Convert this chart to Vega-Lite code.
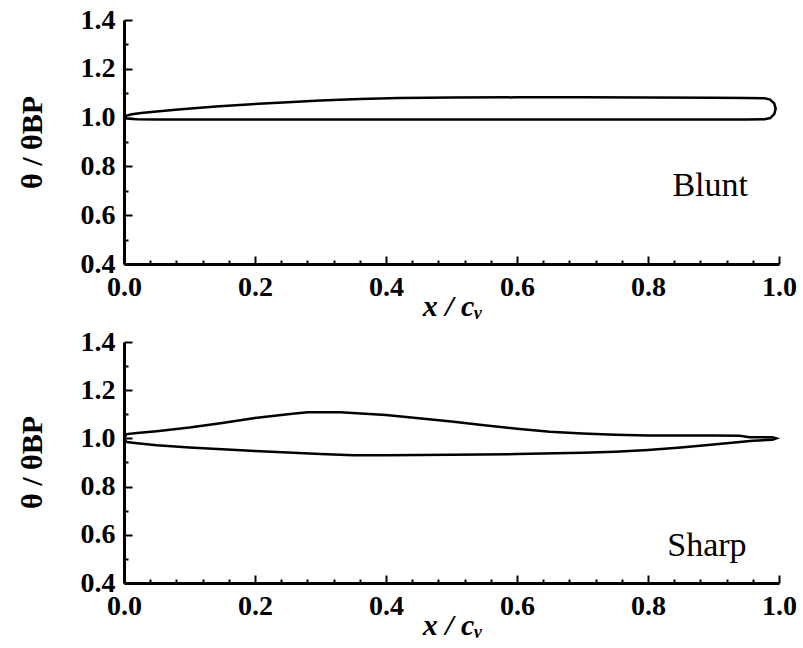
{
  "$schema": "https://vega.github.io/schema/vega-lite/v6.json",
  "background": "white",
  "padding": {"left": 17, "top": 6, "right": 10, "bottom": 0},
  "spacing": 7,
  "config": {
    "view": {"stroke": null},
    "axis": {
      "grid": false,
      "domainColor": "black",
      "domainWidth": 3,
      "tickColor": "black",
      "tickWidth": 2,
      "labelFont": "Liberation Serif",
      "labelFontWeight": "bold",
      "labelFontSize": 28,
      "labelColor": "black",
      "labelOverlap": false,
      "labelFlush": false,
      "titleFont": "Liberation Serif",
      "titleFontWeight": "bold",
      "titleFontSize": 30,
      "titleColor": "black"
    }
  },
  "datasets": {
    "blunt": [
      {"i": 0, "x": 0.0, "y": 1.0},
      {"i": 1, "x": 0.004, "y": 1.008},
      {"i": 2, "x": 0.012, "y": 1.014},
      {"i": 3, "x": 0.026, "y": 1.019},
      {"i": 4, "x": 0.05, "y": 1.025},
      {"i": 5, "x": 0.083, "y": 1.033},
      {"i": 6, "x": 0.14, "y": 1.045},
      {"i": 7, "x": 0.195, "y": 1.055},
      {"i": 8, "x": 0.25, "y": 1.063},
      {"i": 9, "x": 0.3, "y": 1.07},
      {"i": 10, "x": 0.36, "y": 1.076},
      {"i": 11, "x": 0.42, "y": 1.08},
      {"i": 12, "x": 0.5, "y": 1.082},
      {"i": 13, "x": 0.6, "y": 1.083},
      {"i": 14, "x": 0.7, "y": 1.083},
      {"i": 15, "x": 0.8, "y": 1.082},
      {"i": 16, "x": 0.9, "y": 1.081},
      {"i": 17, "x": 0.95, "y": 1.08},
      {"i": 18, "x": 0.978, "y": 1.079},
      {"i": 19, "x": 0.9865, "y": 1.074},
      {"i": 20, "x": 0.9927, "y": 1.058},
      {"i": 21, "x": 0.995, "y": 1.036},
      {"i": 22, "x": 0.9927, "y": 1.014},
      {"i": 23, "x": 0.9865, "y": 0.998},
      {"i": 24, "x": 0.978, "y": 0.993},
      {"i": 25, "x": 0.95, "y": 0.992},
      {"i": 26, "x": 0.8, "y": 0.992},
      {"i": 27, "x": 0.6, "y": 0.992},
      {"i": 28, "x": 0.4, "y": 0.992},
      {"i": 29, "x": 0.2, "y": 0.992},
      {"i": 30, "x": 0.05, "y": 0.992},
      {"i": 31, "x": 0.02, "y": 0.993},
      {"i": 32, "x": 0.008, "y": 0.995},
      {"i": 33, "x": 0.0, "y": 1.0}
    ],
    "sharp": [
      {"i": 0, "x": 0.0, "y": 1.0},
      {"i": 1, "x": 0.004, "y": 1.018},
      {"i": 2, "x": 0.02, "y": 1.022},
      {"i": 3, "x": 0.05, "y": 1.03},
      {"i": 4, "x": 0.1, "y": 1.045},
      {"i": 5, "x": 0.15, "y": 1.064},
      {"i": 6, "x": 0.2, "y": 1.085},
      {"i": 7, "x": 0.25, "y": 1.1},
      {"i": 8, "x": 0.28, "y": 1.108},
      {"i": 9, "x": 0.33, "y": 1.108},
      {"i": 10, "x": 0.4, "y": 1.097},
      {"i": 11, "x": 0.45, "y": 1.084},
      {"i": 12, "x": 0.5, "y": 1.07},
      {"i": 13, "x": 0.55, "y": 1.055},
      {"i": 14, "x": 0.6, "y": 1.04},
      {"i": 15, "x": 0.65, "y": 1.028},
      {"i": 16, "x": 0.7, "y": 1.02},
      {"i": 17, "x": 0.75, "y": 1.015},
      {"i": 18, "x": 0.8, "y": 1.012},
      {"i": 19, "x": 0.9, "y": 1.012},
      {"i": 20, "x": 0.94, "y": 1.011},
      {"i": 21, "x": 0.955, "y": 1.005},
      {"i": 22, "x": 0.99, "y": 1.005},
      {"i": 23, "x": 0.996, "y": 1.0},
      {"i": 24, "x": 0.99, "y": 0.994},
      {"i": 25, "x": 0.96, "y": 0.99},
      {"i": 26, "x": 0.9, "y": 0.975},
      {"i": 27, "x": 0.85, "y": 0.962},
      {"i": 28, "x": 0.8, "y": 0.952},
      {"i": 29, "x": 0.75, "y": 0.945},
      {"i": 30, "x": 0.7, "y": 0.94},
      {"i": 31, "x": 0.6, "y": 0.935},
      {"i": 32, "x": 0.5, "y": 0.932},
      {"i": 33, "x": 0.4, "y": 0.93},
      {"i": 34, "x": 0.35, "y": 0.93},
      {"i": 35, "x": 0.3, "y": 0.935},
      {"i": 36, "x": 0.2, "y": 0.948},
      {"i": 37, "x": 0.1, "y": 0.962},
      {"i": 38, "x": 0.05, "y": 0.972},
      {"i": 39, "x": 0.02, "y": 0.98},
      {"i": 40, "x": 0.004, "y": 0.985},
      {"i": 41, "x": 0.0, "y": 1.0}
    ]
  },
  "vconcat": [
    {
      "width": 655,
      "height": 244,
      "resolve": {"axis": {"x": "independent", "y": "independent"}},
      "layer": [
        {
          "data": {"name": "blunt"},
          "mark": {"type": "line", "color": "black", "strokeWidth": 2.5, "interpolate": "linear"},
          "encoding": {
            "x": {"field": "x", "type": "quantitative", "scale": {"domain": [0, 1], "nice": false},
              "axis": {"orient": "bottom", "title": "x / cᵥ", "titleFontStyle": "italic",
                "values": [0, 0.2, 0.4, 0.6, 0.8, 1.0], "format": ".1f",
                "tickSize": -8, "labelPadding": 17, "labelOverlap": false,
                "titleX": 328, "titleY": 42, "titleBaseline": "middle", "titleAlign": "center"}},
            "y": {"field": "y", "type": "quantitative", "scale": {"domain": [0.4, 1.4], "nice": false},
              "axis": {"orient": "left", "title": "θ / θBP",
                "values": [0.4, 0.6, 0.8, 1.0, 1.2, 1.4], "format": ".1f",
                "tickSize": -8, "labelPadding": 17, "labelOverlap": false,
                "titleX": -92, "titleY": 122, "titleAngle": 270, "titleBaseline": "middle", "titleAlign": "center"}},
            "order": {"field": "i", "type": "quantitative"}
          }
        },
        {
          "data": {"values": [{"x": 0.895, "y": 0.72, "label": "Blunt"}]},
          "mark": {"type": "text", "font": "Liberation Serif", "fontSize": 34, "color": "black", "align": "center", "baseline": "middle"},
          "encoding": {
            "x": {"field": "x", "type": "quantitative",
              "axis": {"orient": "bottom", "title": null, "labels": false, "domain": false, "tickSize": -4,
                "values": [0.04,0.08,0.12,0.16,0.24,0.28,0.32,0.36,0.44,0.48,0.52,0.56,0.64,0.68,0.72,0.76,0.84,0.88,0.92,0.96]}},
            "y": {"field": "y", "type": "quantitative",
              "axis": {"orient": "left", "title": null, "labels": false, "domain": false, "tickSize": -4,
                "values": [0.5, 0.7, 0.9, 1.1, 1.3]}},
            "text": {"field": "label"}
          }
        }
      ]
    },
    {
      "width": 655,
      "height": 241,
      "resolve": {"axis": {"x": "independent", "y": "independent"}},
      "layer": [
        {
          "data": {"name": "sharp"},
          "mark": {"type": "line", "color": "black", "strokeWidth": 2.5, "interpolate": "linear"},
          "encoding": {
            "x": {"field": "x", "type": "quantitative", "scale": {"domain": [0, 1], "nice": false},
              "axis": {"orient": "bottom", "title": "x / cᵥ", "titleFontStyle": "italic",
                "values": [0, 0.2, 0.4, 0.6, 0.8, 1.0], "format": ".1f",
                "tickSize": -8, "labelPadding": 17, "labelOverlap": false,
                "titleX": 328, "titleY": 42, "titleBaseline": "middle", "titleAlign": "center"}},
            "y": {"field": "y", "type": "quantitative", "scale": {"domain": [0.4, 1.4], "nice": false},
              "axis": {"orient": "left", "title": "θ / θBP",
                "values": [0.4, 0.6, 0.8, 1.0, 1.2, 1.4], "format": ".1f",
                "tickSize": -8, "labelPadding": 17, "labelOverlap": false,
                "titleX": -92, "titleY": 120, "titleAngle": 270, "titleBaseline": "middle", "titleAlign": "center"}},
            "order": {"field": "i", "type": "quantitative"}
          }
        },
        {
          "data": {"values": [{"x": 0.89, "y": 0.554, "label": "Sharp"}]},
          "mark": {"type": "text", "font": "Liberation Serif", "fontSize": 34, "color": "black", "align": "center", "baseline": "middle"},
          "encoding": {
            "x": {"field": "x", "type": "quantitative",
              "axis": {"orient": "bottom", "title": null, "labels": false, "domain": false, "tickSize": -4,
                "values": [0.04,0.08,0.12,0.16,0.24,0.28,0.32,0.36,0.44,0.48,0.52,0.56,0.64,0.68,0.72,0.76,0.84,0.88,0.92,0.96]}},
            "y": {"field": "y", "type": "quantitative",
              "axis": {"orient": "left", "title": null, "labels": false, "domain": false, "tickSize": -4,
                "values": [0.5, 0.7, 0.9, 1.1, 1.3]}},
            "text": {"field": "label"}
          }
        }
      ]
    }
  ]
}
